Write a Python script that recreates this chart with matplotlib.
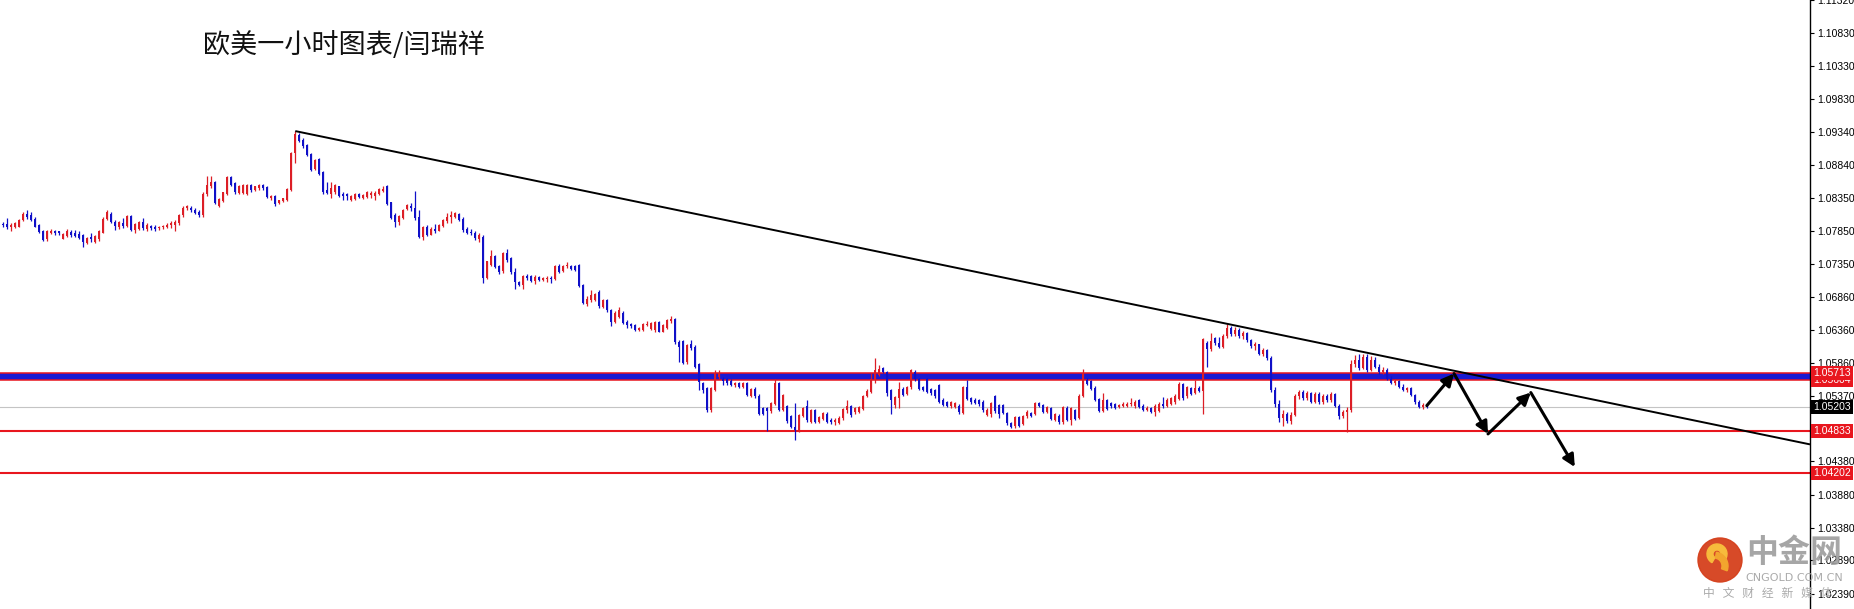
import numpy as np
import matplotlib
matplotlib.use("Agg")
import matplotlib.pyplot as plt
from matplotlib.patches import Circle, Wedge

plt.rcParams['font.family'] = ['Noto Sans CJK SC', 'DejaVu Sans']

# EURUSD H1 candles (one row = 10 bars)
opens = [
    1.07950, 1.07950, 1.07900, 1.07910, 1.07910, 1.08010, 1.08110, 1.08080, 1.08030, 1.07930,
    1.07840, 1.07720, 1.07820, 1.07840, 1.07840, 1.07730, 1.07770, 1.07830, 1.07820, 1.07800,
    1.07780, 1.07670, 1.07750, 1.07680, 1.07720, 1.07820, 1.08030, 1.08110, 1.07980, 1.07900,
    1.07960, 1.07920, 1.08070, 1.07860, 1.07880, 1.07980, 1.07880, 1.07920, 1.07910, 1.07890,
    1.07900, 1.07910, 1.07930, 1.07940, 1.07960, 1.08080, 1.08190, 1.08200, 1.08170, 1.08140,
    1.08080, 1.08400, 1.08520, 1.08590, 1.08227, 1.08297, 1.08407, 1.08652, 1.08567, 1.08417,
    1.08417, 1.08407, 1.08542, 1.08467, 1.08492, 1.08537, 1.08507, 1.08337, 1.08377, 1.08267,
    1.08297, 1.08317, 1.08467, 1.09017, 1.09287, 1.09217, 1.09147, 1.09007, 1.08787, 1.08927,
    1.08737, 1.08457, 1.08407, 1.08427, 1.08517, 1.08397, 1.08397, 1.08317, 1.08327, 1.08407,
    1.08347, 1.08357, 1.08387, 1.08367, 1.08407, 1.08447, 1.08517, 1.08277, 1.08087, 1.07987,
    1.08047, 1.08174, 1.08224, 1.08189, 1.08064, 1.07764, 1.07914, 1.07794, 1.07884, 1.07854,
    1.07924, 1.08004, 1.08064, 1.08054, 1.08104, 1.08034, 1.07884, 1.07834, 1.07824, 1.07724,
    1.07764, 1.07144, 1.07339, 1.07474, 1.07314, 1.07239, 1.07514, 1.07434, 1.07234, 1.07084,
    1.07034, 1.07174, 1.07164, 1.07094, 1.07154, 1.07114, 1.07124, 1.07134, 1.07124, 1.07314,
    1.07244, 1.07314, 1.07324, 1.07324, 1.07334, 1.07034, 1.06754, 1.06814, 1.06804, 1.06934,
    1.06704, 1.06804, 1.06654, 1.06484, 1.06554, 1.06614, 1.06474, 1.06444, 1.06434, 1.06364,
    1.06364, 1.06434, 1.06374, 1.06354, 1.06474, 1.06334, 1.06384, 1.06494, 1.06520, 1.06180,
    1.06190, 1.05870, 1.06140, 1.06107, 1.05847, 1.05557, 1.05482, 1.05147, 1.05457, 1.05647,
    1.05617, 1.05617, 1.05597, 1.05537, 1.05557, 1.05507, 1.05557, 1.05367, 1.05477, 1.05367,
    1.05182, 1.05182, 1.05132, 1.05247, 1.05557, 1.05157, 1.05207, 1.05057, 1.04897, 1.04857,
    1.05067, 1.05207, 1.04977, 1.05147, 1.04977, 1.05017, 1.05097, 1.05007, 1.04967, 1.04957,
    1.05027, 1.05147, 1.05207, 1.05117, 1.05127, 1.05167, 1.05367, 1.05427, 1.05607, 1.05687,
    1.05787, 1.05727, 1.05457, 1.05227, 1.05327, 1.05477, 1.05397, 1.05497, 1.05727, 1.05617,
    1.05497, 1.05617, 1.05467, 1.05457, 1.05527, 1.05307, 1.05267, 1.05207, 1.05197, 1.05217,
    1.05107, 1.05497, 1.05327, 1.05307, 1.05297, 1.05277, 1.05077, 1.05097, 1.05357, 1.05227,
    1.05227, 1.05108, 1.04958, 1.04908, 1.05048, 1.04948, 1.05058, 1.05108, 1.05098, 1.05258,
    1.05228, 1.05128, 1.05178, 1.05008, 1.05068, 1.04968, 1.05188, 1.05008, 1.05148, 1.05033,
    1.05368, 1.05608, 1.05588, 1.05488, 1.05318, 1.05138, 1.05298, 1.05258, 1.05238, 1.05198,
    1.05218, 1.05218, 1.05238, 1.05208, 1.05298, 1.05218, 1.05158, 1.05178, 1.05128, 1.05138,
    1.05248, 1.05218, 1.05248, 1.05268, 1.05318, 1.05538, 1.05358, 1.05478, 1.05408, 1.05488,
    1.05438, 1.06168, 1.06068, 1.06238, 1.06160, 1.06100, 1.06260, 1.06380, 1.06290, 1.06360,
    1.06260, 1.06310, 1.06200, 1.06110, 1.06140, 1.06000, 1.06050, 1.05930, 1.05450, 1.05240,
    1.05040, 1.05100, 1.04990, 1.05080, 1.05360, 1.05430, 1.05330, 1.05410, 1.05280, 1.05390,
    1.05270, 1.05370, 1.05300, 1.05400, 1.05220, 1.05060, 1.05120, 1.05150, 1.05850, 1.05900,
    1.05790, 1.05950, 1.05760, 1.05900, 1.05800, 1.05730, 1.05760, 1.05620, 1.05560, 1.05590,
    1.05500, 1.05460, 1.05480, 1.05380, 1.05270, 1.05200, 1.05230,
]

highs = [
    1.07980, 1.08040, 1.07960, 1.07980, 1.08030, 1.08140, 1.08160, 1.08140, 1.08050, 1.07950,
    1.07860, 1.07860, 1.07870, 1.07860, 1.07850, 1.07820, 1.07870, 1.07860, 1.07860, 1.07840,
    1.07800, 1.07760, 1.07810, 1.07780, 1.07860, 1.08050, 1.08170, 1.08130, 1.08010, 1.07990,
    1.08040, 1.08090, 1.08090, 1.07970, 1.08000, 1.08040, 1.07960, 1.07940, 1.07930, 1.07920,
    1.07940, 1.07960, 1.08000, 1.08010, 1.08110, 1.08230, 1.08240, 1.08220, 1.08190, 1.08160,
    1.08430, 1.08670, 1.08670, 1.08600, 1.08340, 1.08440, 1.08667, 1.08680, 1.08580, 1.08540,
    1.08560, 1.08560, 1.08560, 1.08530, 1.08557, 1.08560, 1.08520, 1.08390, 1.08390, 1.08320,
    1.08350, 1.08490, 1.09040, 1.09347, 1.09317, 1.09240, 1.09160, 1.09020, 1.08930, 1.08940,
    1.08750, 1.08587, 1.08587, 1.08550, 1.08530, 1.08427, 1.08417, 1.08390, 1.08420, 1.08420,
    1.08400, 1.08450, 1.08447, 1.08447, 1.08500, 1.08517, 1.08537, 1.08290, 1.08117, 1.08087,
    1.08180, 1.08260, 1.08264, 1.08454, 1.08164, 1.07924, 1.07930, 1.07900, 1.07954, 1.07950,
    1.08030, 1.08124, 1.08144, 1.08130, 1.08120, 1.08064, 1.07900, 1.07884, 1.07854, 1.07814,
    1.07784, 1.07400, 1.07564, 1.07490, 1.07334, 1.07530, 1.07574, 1.07454, 1.07284, 1.07100,
    1.07184, 1.07194, 1.07180, 1.07184, 1.07170, 1.07150, 1.07164, 1.07164, 1.07330, 1.07344,
    1.07330, 1.07384, 1.07340, 1.07340, 1.07354, 1.07050, 1.06864, 1.06964, 1.06920, 1.06954,
    1.06820, 1.06830, 1.06674, 1.06640, 1.06700, 1.06640, 1.06504, 1.06460, 1.06450, 1.06400,
    1.06470, 1.06494, 1.06480, 1.06494, 1.06490, 1.06450, 1.06530, 1.06564, 1.06540, 1.06210,
    1.06210, 1.06150, 1.06210, 1.06130, 1.05860, 1.05582, 1.05500, 1.05500, 1.05757, 1.05757,
    1.05657, 1.05640, 1.05620, 1.05577, 1.05577, 1.05577, 1.05577, 1.05490, 1.05500, 1.05390,
    1.05200, 1.05200, 1.05280, 1.05617, 1.05580, 1.05400, 1.05230, 1.05080, 1.05257, 1.05100,
    1.05200, 1.05310, 1.05167, 1.05167, 1.05067, 1.05127, 1.05117, 1.05027, 1.05027, 1.05057,
    1.05187, 1.05307, 1.05227, 1.05197, 1.05217, 1.05387, 1.05467, 1.05707, 1.05932, 1.05827,
    1.05807, 1.05747, 1.05477, 1.05367, 1.05577, 1.05497, 1.05517, 1.05777, 1.05757, 1.05640,
    1.05517, 1.05640, 1.05487, 1.05477, 1.05547, 1.05327, 1.05287, 1.05287, 1.05277, 1.05237,
    1.05517, 1.05607, 1.05347, 1.05327, 1.05317, 1.05297, 1.05177, 1.05277, 1.05377, 1.05247,
    1.05247, 1.05128, 1.04978, 1.05068, 1.05068, 1.05078, 1.05148, 1.05128, 1.05278, 1.05278,
    1.05248, 1.05218, 1.05198, 1.05108, 1.05088, 1.05218, 1.05208, 1.05198, 1.05168, 1.05388,
    1.05768, 1.05628, 1.05608, 1.05508, 1.05338, 1.05408, 1.05318, 1.05278, 1.05258, 1.05248,
    1.05268, 1.05268, 1.05328, 1.05298, 1.05318, 1.05238, 1.05208, 1.05198, 1.05238, 1.05268,
    1.05348, 1.05328, 1.05348, 1.05388, 1.05568, 1.05558, 1.05518, 1.05498, 1.05608, 1.05508,
    1.06238, 1.06188, 1.06308, 1.06258, 1.06258, 1.06300, 1.06450, 1.06420, 1.06400, 1.06380,
    1.06340, 1.06330, 1.06220, 1.06180, 1.06150, 1.06080, 1.06070, 1.05960, 1.05500, 1.05300,
    1.05150, 1.05130, 1.05120, 1.05400, 1.05460, 1.05450, 1.05440, 1.05430, 1.05420, 1.05430,
    1.05400, 1.05390, 1.05420, 1.05410, 1.05240, 1.05150, 1.05200, 1.05900, 1.05980, 1.06000,
    1.05990, 1.05990, 1.05960, 1.05950, 1.05850, 1.05800, 1.05780, 1.05660, 1.05620, 1.05610,
    1.05540, 1.05500, 1.05500, 1.05400, 1.05300, 1.05260, 1.05250,
]

lows = [
    1.07910, 1.07880, 1.07840, 1.07890, 1.07900, 1.07990, 1.08030, 1.07990, 1.07900, 1.07810,
    1.07690, 1.07700, 1.07800, 1.07780, 1.07790, 1.07720, 1.07750, 1.07750, 1.07750, 1.07720,
    1.07610, 1.07650, 1.07680, 1.07660, 1.07700, 1.07810, 1.08010, 1.07960, 1.07860, 1.07870,
    1.07890, 1.07910, 1.07850, 1.07820, 1.07860, 1.07860, 1.07840, 1.07860, 1.07850, 1.07860,
    1.07880, 1.07890, 1.07890, 1.07850, 1.07940, 1.08060, 1.08170, 1.08140, 1.08100, 1.08060,
    1.08060, 1.08380, 1.08500, 1.08250, 1.08207, 1.08280, 1.08390, 1.08520, 1.08400, 1.08400,
    1.08400, 1.08390, 1.08440, 1.08450, 1.08457, 1.08470, 1.08340, 1.08320, 1.08230, 1.08250,
    1.08280, 1.08300, 1.08450, 1.08877, 1.09187, 1.09100, 1.08980, 1.08750, 1.08770, 1.08690,
    1.08410, 1.08397, 1.08337, 1.08410, 1.08360, 1.08317, 1.08307, 1.08300, 1.08310, 1.08340,
    1.08330, 1.08340, 1.08337, 1.08317, 1.08390, 1.08427, 1.08237, 1.08030, 1.07907, 1.07937,
    1.08030, 1.08160, 1.08154, 1.08014, 1.07739, 1.07704, 1.07770, 1.07780, 1.07824, 1.07840,
    1.07910, 1.07964, 1.07974, 1.08040, 1.08000, 1.07834, 1.07800, 1.07784, 1.07714, 1.07684,
    1.07064, 1.07130, 1.07314, 1.07290, 1.07194, 1.07220, 1.07374, 1.07204, 1.06974, 1.07020,
    1.06974, 1.07104, 1.07080, 1.07044, 1.07100, 1.07100, 1.07084, 1.07064, 1.07110, 1.07214,
    1.07230, 1.07294, 1.07260, 1.07250, 1.07004, 1.06750, 1.06724, 1.06784, 1.06790, 1.06694,
    1.06690, 1.06630, 1.06414, 1.06464, 1.06534, 1.06444, 1.06394, 1.06394, 1.06344, 1.06344,
    1.06344, 1.06414, 1.06360, 1.06334, 1.06320, 1.06320, 1.06370, 1.06464, 1.06150, 1.05870,
    1.05840, 1.05850, 1.06050, 1.05790, 1.05457, 1.05407, 1.05130, 1.05130, 1.05440, 1.05627,
    1.05537, 1.05537, 1.05517, 1.05507, 1.05490, 1.05490, 1.05357, 1.05350, 1.05340, 1.05080,
    1.05080, 1.04837, 1.05110, 1.05230, 1.05140, 1.05140, 1.04960, 1.04880, 1.04707, 1.04830,
    1.05050, 1.04980, 1.04957, 1.04957, 1.04957, 1.04997, 1.04957, 1.04947, 1.04927, 1.04937,
    1.05007, 1.05107, 1.05047, 1.05097, 1.05107, 1.05147, 1.05347, 1.05407, 1.05557, 1.05667,
    1.05707, 1.05367, 1.05097, 1.05182, 1.05182, 1.05367, 1.05377, 1.05477, 1.05597, 1.05457,
    1.05437, 1.05407, 1.05387, 1.05337, 1.05257, 1.05207, 1.05197, 1.05187, 1.05177, 1.05097,
    1.05087, 1.05297, 1.05247, 1.05237, 1.05217, 1.05127, 1.05057, 1.05047, 1.05112, 1.05027,
    1.05087, 1.04933, 1.04878, 1.04888, 1.04898, 1.04928, 1.05038, 1.05048, 1.05078, 1.05198,
    1.05108, 1.05108, 1.04998, 1.04988, 1.04948, 1.04948, 1.04988, 1.04933, 1.04998, 1.05013,
    1.05348, 1.05528, 1.05448, 1.05288, 1.05118, 1.05118, 1.05148, 1.05188, 1.05168, 1.05178,
    1.05198, 1.05198, 1.05218, 1.05188, 1.05178, 1.05138, 1.05138, 1.05108, 1.05068, 1.05118,
    1.05188, 1.05198, 1.05228, 1.05248, 1.05298, 1.05308, 1.05338, 1.05378, 1.05388, 1.05418,
    1.05098, 1.05808, 1.06048, 1.06138, 1.06080, 1.06080, 1.06240, 1.06260, 1.06270, 1.06240,
    1.06220, 1.06180, 1.06080, 1.06060, 1.05980, 1.05960, 1.05900, 1.05420, 1.05200, 1.04980,
    1.04920, 1.04960, 1.04950, 1.05060, 1.05320, 1.05300, 1.05300, 1.05260, 1.05260, 1.05240,
    1.05250, 1.05270, 1.05280, 1.05200, 1.05020, 1.05030, 1.04830, 1.05120, 1.05800, 1.05760,
    1.05770, 1.05720, 1.05740, 1.05780, 1.05700, 1.05700, 1.05600, 1.05540, 1.05530, 1.05480,
    1.05440, 1.05420, 1.05360, 1.05250, 1.05180, 1.05170, 1.05190,
]

closes = [
    1.07930, 1.07900, 1.07940, 1.07960, 1.08010, 1.08110, 1.08060, 1.08010, 1.07910, 1.07830,
    1.07710, 1.07840, 1.07850, 1.07810, 1.07810, 1.07800, 1.07840, 1.07790, 1.07770, 1.07740,
    1.07680, 1.07740, 1.07720, 1.07770, 1.07840, 1.08030, 1.08140, 1.07980, 1.07920, 1.07980,
    1.07920, 1.08070, 1.07860, 1.07950, 1.07980, 1.07890, 1.07940, 1.07890, 1.07880, 1.07910,
    1.07920, 1.07940, 1.07970, 1.07980, 1.08090, 1.08200, 1.08220, 1.08160, 1.08120, 1.08080,
    1.08410, 1.08540, 1.08590, 1.08267, 1.08327, 1.08427, 1.08652, 1.08542, 1.08427, 1.08527,
    1.08537, 1.08542, 1.08457, 1.08517, 1.08532, 1.08487, 1.08357, 1.08377, 1.08247, 1.08307,
    1.08337, 1.08477, 1.09027, 1.09307, 1.09207, 1.09127, 1.08997, 1.08767, 1.08917, 1.08707,
    1.08427, 1.08417, 1.08497, 1.08537, 1.08377, 1.08377, 1.08367, 1.08377, 1.08407, 1.08357,
    1.08387, 1.08437, 1.08417, 1.08417, 1.08477, 1.08477, 1.08257, 1.08047, 1.07977, 1.08067,
    1.08167, 1.08244, 1.08194, 1.08039, 1.07754, 1.07904, 1.07784, 1.07884, 1.07844, 1.07934,
    1.08014, 1.08064, 1.08084, 1.08114, 1.08014, 1.07864, 1.07814, 1.07814, 1.07734, 1.07784,
    1.07139, 1.07389, 1.07464, 1.07304, 1.07234, 1.07514, 1.07404, 1.07224, 1.07084, 1.07034,
    1.07164, 1.07134, 1.07094, 1.07154, 1.07114, 1.07134, 1.07144, 1.07124, 1.07314, 1.07234,
    1.07314, 1.07334, 1.07274, 1.07264, 1.07024, 1.06764, 1.06824, 1.06884, 1.06904, 1.06714,
    1.06804, 1.06654, 1.06484, 1.06614, 1.06654, 1.06464, 1.06434, 1.06414, 1.06364, 1.06384,
    1.06454, 1.06454, 1.06464, 1.06474, 1.06334, 1.06434, 1.06514, 1.06524, 1.06180, 1.06100,
    1.05860, 1.06130, 1.06090, 1.05807, 1.05582, 1.05457, 1.05147, 1.05482, 1.05707, 1.05707,
    1.05587, 1.05557, 1.05537, 1.05557, 1.05507, 1.05557, 1.05382, 1.05467, 1.05357, 1.05097,
    1.05097, 1.05132, 1.05257, 1.05557, 1.05157, 1.05377, 1.04982, 1.04897, 1.04857, 1.05082,
    1.05182, 1.04997, 1.05147, 1.04977, 1.05047, 1.05107, 1.04977, 1.04977, 1.05007, 1.05037,
    1.05167, 1.05207, 1.05077, 1.05177, 1.05197, 1.05367, 1.05447, 1.05627, 1.05757, 1.05777,
    1.05727, 1.05417, 1.05307, 1.05347, 1.05477, 1.05387, 1.05497, 1.05757, 1.05617, 1.05477,
    1.05457, 1.05427, 1.05407, 1.05357, 1.05277, 1.05227, 1.05217, 1.05267, 1.05257, 1.05117,
    1.05497, 1.05317, 1.05267, 1.05257, 1.05237, 1.05147, 1.05157, 1.05257, 1.05132, 1.05097,
    1.05107, 1.04958, 1.04898, 1.05048, 1.04918, 1.05058, 1.05128, 1.05068, 1.05258, 1.05218,
    1.05128, 1.05198, 1.05018, 1.05088, 1.04968, 1.05198, 1.05008, 1.05178, 1.05018, 1.05368,
    1.05708, 1.05548, 1.05468, 1.05308, 1.05138, 1.05298, 1.05168, 1.05208, 1.05188, 1.05228,
    1.05248, 1.05248, 1.05258, 1.05278, 1.05198, 1.05158, 1.05188, 1.05128, 1.05218, 1.05248,
    1.05208, 1.05308, 1.05328, 1.05368, 1.05548, 1.05328, 1.05498, 1.05398, 1.05488, 1.05438,
    1.06218, 1.06068, 1.06188, 1.06158, 1.06100, 1.06260, 1.06380, 1.06290, 1.06360, 1.06260,
    1.06310, 1.06200, 1.06110, 1.06140, 1.06000, 1.06050, 1.05930, 1.05450, 1.05240, 1.05040,
    1.05100, 1.04990, 1.05080, 1.05360, 1.05430, 1.05330, 1.05410, 1.05280, 1.05390, 1.05270,
    1.05370, 1.05300, 1.05400, 1.05220, 1.05060, 1.05120, 1.05150, 1.05850, 1.05900, 1.05790,
    1.05950, 1.05760, 1.05900, 1.05800, 1.05730, 1.05760, 1.05620, 1.05560, 1.05590, 1.05500,
    1.05460, 1.05480, 1.05380, 1.05270, 1.05200, 1.05230, 1.05203,
]

# horizontal levels, right-hand price tags
band_levels = [1.05604, 1.05713]
red_levels = [1.04833, 1.04202]
bid_price = 1.05203
axis_ticks = [1.11320, 1.10830, 1.10330, 1.09830, 1.09340, 1.08840, 1.08350,
              1.07850, 1.07350, 1.06860, 1.06360, 1.05860, 1.05370, 1.04380,
              1.03880, 1.03380, 1.02890, 1.02390]

# trend line anchors (bar index, price) and projected path of the arrows
trend_pts = [(73, 1.09350), (306, 1.06450)]
arrow_path = [(355.9, 1.05220), (362.7, 1.05702), (371.2, 1.04794),
              (381.9, 1.05416), (392.9, 1.04296)]

title = '欧美一小时图表/闫瑞祥'

W, H = 1854, 609
fig = plt.figure(figsize=(W / 100, H / 100), dpi=100)
fig.patch.set_facecolor('white')
ax = fig.add_axes([0, 0, 1810 / W, 1])

n = min(len(opens), len(highs), len(lows), len(closes))
o = np.array(opens[:n]); h = np.array(highs[:n])
l = np.array(lows[:n]); c = np.array(closes[:n])
x = np.arange(n)
up = c >= o
col = np.where(up, '#dc1e26', '#1010c8')

# band and levels behind the candles
ax.axhspan(band_levels[0], band_levels[1], color='#1a1ad2', lw=0, zorder=1)
for lv in band_levels:
    ax.axhline(lv, color='#e8161e', lw=1.1, zorder=1.2)
for lv in red_levels:
    ax.axhline(lv, color='#e8161e', lw=1.5, zorder=1.2)
ax.axhline(bid_price, color='#c4c4c4', lw=0.8, zorder=1.1)

ax.vlines(x, l, h, colors=col, lw=0.9, zorder=3)
body_lo = np.minimum(o, c)
body_h = np.maximum(np.abs(c - o), 0.00009)
ax.bar(x, body_h, bottom=body_lo, width=0.58, color=col, lw=0, zorder=3)

x0, x1 = -0.825, 451.7
ax.set_xlim(x0, x1)
ax.set_ylim(1.02160, 1.11322)

# trend line from the top, extended to the right edge
(ta, pa), (tb, pb) = trend_pts
slope = (pb - pa) / (tb - ta)
ax.plot([ta, x1], [pa, pa + slope * (x1 - ta)], color='black', lw=1.4, zorder=4,
        solid_capstyle='butt')

# projection arrows
for (xa, ya), (xb, yb) in zip(arrow_path[:-1], arrow_path[1:]):
    ax.annotate('', xy=(xb, yb), xytext=(xa, ya),
                arrowprops=dict(arrowstyle='-|>', color='black', lw=2.2,
                                mutation_scale=18, shrinkA=0, shrinkB=0),
                zorder=5)

# axes styling
for s in ['left', 'top', 'bottom']:
    ax.spines[s].set_visible(False)
ax.spines['right'].set_color('black')
ax.spines['right'].set_linewidth(1.0)
ax.set_xticks([])
ax.yaxis.tick_right()
ax.set_yticks(axis_ticks)
ax.set_yticklabels(['%.5f' % t for t in axis_ticks], fontfamily='Liberation Sans',
                   fontsize=7.5, color='black')
ax.tick_params(axis='y', direction='out', length=3, width=0.8, pad=2)

# price tags on the right scale
tagtr = ax.get_yaxis_transform()
tags = [(band_levels[0], '#e8161e'), (band_levels[1], '#e8161e'),
        (red_levels[0], '#e8161e'), (red_levels[1], '#e8161e'),
        (bid_price, 'black')]
for price, fc in tags:
    ax.text(1.0018, price, '%.5f' % price, transform=tagtr, ha='left', va='center',
            fontsize=7.5, fontfamily='Liberation Sans', color='white', zorder=10,
            clip_on=False,
            bbox=dict(boxstyle='square,pad=0.18', fc=fc, ec='none'))

# title
fig.text(203 / W, 1 - 45 / H, title, fontsize=19.5, color='#111111',
         ha='left', va='center', fontfamily='Noto Sans CJK SC')

# watermark (bottom right)
ov = fig.add_axes([0, 0, 1, 1], zorder=20)
ov.set_xlim(0, W); ov.set_ylim(H, 0); ov.axis('off')
ov.patch.set_alpha(0)
ov.add_patch(Circle((1720, 560), 22, color='#d5401c', alpha=0.95))
ov.add_patch(Wedge((1717, 554), 10, 120, 400, width=6, color='#f7bb3c'))
ov.add_patch(Wedge((1714, 566), 14, 280, 20, width=6, color='#f2a52e'))
ov.text(1794, 553, '中金网', fontsize=23, fontweight='bold', color='#9c9c9c',
        ha='center', va='center', alpha=0.9, fontfamily='Noto Sans CJK SC')
ov.text(1794, 578, 'CNGOLD.COM.CN', fontsize=8, color='#aaaaaa', ha='center',
        va='center', fontfamily='DejaVu Sans')
ov.text(1768, 593, '中   文   财   经   新   媒   体', fontsize=8.5, color='#aaaaaa',
        ha='center', va='center', fontfamily='Noto Sans CJK SC')

fig.savefig('out.png', dpi=100, facecolor='white')
